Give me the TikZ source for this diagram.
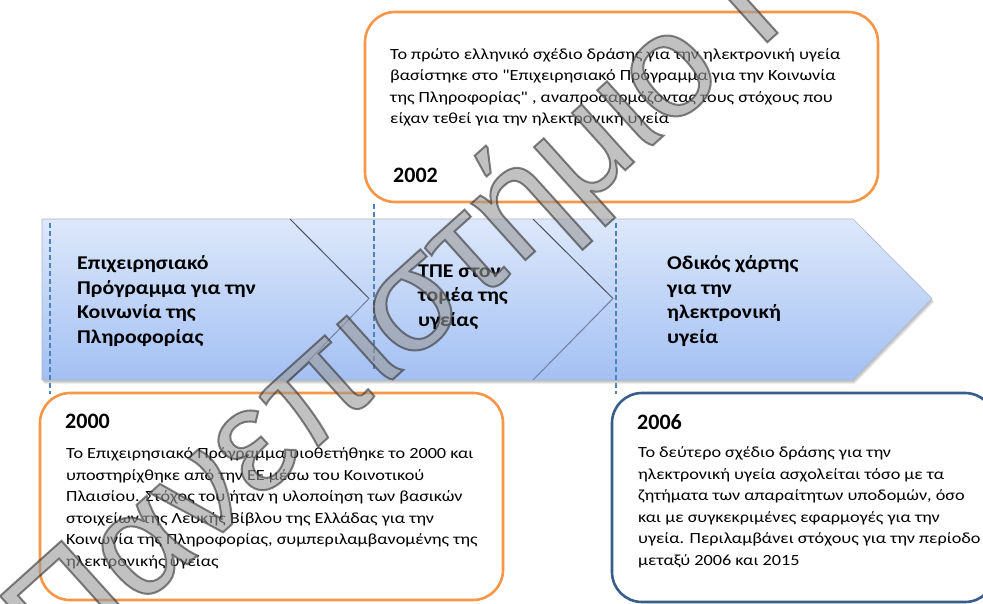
\documentclass[tikz,border=0pt]{standalone}
\usepackage{fontspec}
\setmainfont{Carlito}
\newfontfamily\bodyfont[FakeStretch=1.175]{Carlito}
\newfontfamily\labelfont[FakeStretch=1.12]{Carlito}
\newfontfamily\wmfont{Liberation Sans}

% outlined text: fill and stroke the glyphs, then back to plain fill
\newcommand\outlineon{\special{pdf:literal direct 2 Tr 2 w 0.2 0.2 0.2 RG}}
\newcommand\outlineoff{\special{pdf:literal direct 0 Tr}}

\definecolor{bandtop}{HTML}{DDE8FB}
\definecolor{bandbot}{HTML}{A3C0F3}
\definecolor{bandedge}{HTML}{A9B6CC}
\definecolor{boxorange}{HTML}{F79646}
\definecolor{boxnavy}{HTML}{385D8A}
\definecolor{dashblue}{HTML}{4F81BD}
\definecolor{chevdark}{HTML}{4C5160}
\definecolor{chevlight}{HTML}{6F80A3}

\tikzset{
  body/.style={inner sep=0pt, align=left, anchor=west,
    font=\bodyfont\fontsize{15.5}{21.5}\selectfont},
  bandlabel/.style={inner sep=0pt, align=left, anchor=west,
    font=\labelfont\bfseries\fontsize{19.5}{24.5}\selectfont},
  yearlabel/.style={inner sep=0pt, anchor=west,
    font=\bfseries\fontsize{22}{26}\selectfont},
  eventbox/.style={draw, line width=2.6pt, rounded corners=30pt,
    fill=white, inner sep=0pt},
  guide/.style={draw=dashblue, line width=1.8pt, dash pattern=on 5pt off 3pt},
  chevline/.style={line width=1pt},
  wmark/.style={inner sep=0pt, text=black!40, opacity=0.6,
    font=\wmfont\fontsize{148}{150}\selectfont},
}

\begin{document}
\begin{tikzpicture}[x=1pt, y=-1pt]
\useasboundingbox (0,0) rectangle (983,603);
\fill[white] (0,0) rectangle (983,603);

% soft shadow under the process band
\foreach \d/\o in {4/0.06, 3/0.08, 2/0.10}
  \fill[black, opacity=\o] (42+\d*0.5,219+\d) -- (853+\d*0.5,219+\d)
    -- (932+\d*0.5,298.5+\d) -- (853+\d*0.5,380+\d) -- (42+\d*0.5,380+\d) -- cycle;

% process band (arrow)
\shade[top color=bandtop, bottom color=bandbot, draw=bandedge, line width=0.6pt]
  (42,219) -- (853,219) -- (932,298.5) -- (853,380) -- (42,380) -- cycle;

% chevron separators
\draw[chevline, chevdark] (290,219) -- (369,298.5);
\draw[chevline, chevlight] (369,298.5) -- (290,380);
\draw[chevline, chevdark] (533,219) -- (613,298.5);
\draw[chevline, chevlight] (613,298.5) -- (533,380);

% event boxes
\node[eventbox, draw=boxorange, minimum width=513pt, minimum height=190pt]
  (box2002) at (621.5,107) {};
\node[eventbox, draw=boxorange, minimum width=463pt, minimum height=207pt]
  (box2000) at (271.5,496.5) {};
\node[eventbox, draw=boxnavy, minimum width=383pt, minimum height=209pt]
  (box2006) at (803.5,497.5) {};

% guides from the band to the boxes
\coordinate (g1top) at (50,223);
\coordinate (g2bot) at (374,370);
\coordinate (g3top) at (616,223);
\draw[guide] (g1top) -- (50,393.5);
\draw[guide] (374,203.5) -- (g2bot);
\draw[guide] (g3top) -- (616,393.5);

% band labels
\node[bandlabel] (stage1) at (77,301)
  {Επιχειρησιακό\\Πρόγραμμα για την\\Κοινωνία της\\Πληροφορίας};
\node[bandlabel] (stage2) at (418,297)
  {ΤΠΕ στον\\τομέα της\\υγείας};
\node[bandlabel] (stage3) at (667,301)
  {Οδικός χάρτης\\για την\\ηλεκτρονική\\υγεία};

% 2002
\node[body] (text2002) at (390,87.5)
  {Το πρώτο ελληνικό σχέδιο δράσης για την ηλεκτρονική υγεία\\
   βασίστηκε στο "Επιχειρησιακό Πρόγραμμα για την Κοινωνία\\
   της Πληροφορίας" , αναπροσαρμόζοντας τους στόχους που\\
   είχαν τεθεί για την ηλεκτρονική υγεία};
\node[yearlabel] (year2002) at (393,175) {2002};

% 2000
\node[yearlabel] (year2000) at (65,421) {2000};
\node[body] (text2000) at (66,508.5)
  {Το Επιχειρησιακό Πρόγραμμα υιοθετήθηκε το 2000 και\\
   υποστηρίχθηκε από την ΕΕ μέσω του Κοινοτικού\\
   Πλαισίου. Στόχος του ήταν η υλοποίηση των βασικών\\
   στοιχείων της Λευκής Βίβλου της Ελλάδας για την\\
   Κοινωνία της Πληροφορίας, συμπεριλαμβανομένης της\\
   ηλεκτρονικής υγείας};

% 2006
\node[yearlabel] (year2006) at (637,422) {2006};
\node[body] (text2006) at (638,507.5)
  {Το δεύτερο σχέδιο δράσης για την\\
   ηλεκτρονική υγεία ασχολείται τόσο με τα\\
   ζητήματα των απαραίτητων υποδομών, όσο\\
   και με συγκεκριμένες εφαρμογές για την\\
   υγεία. Περιλαμβάνει στόχους για την περίοδο\\
   μεταξύ 2006 και 2015};

% watermark
\node[wmark, rotate=42, anchor=base west] (wm) at (59,680)
  {\outlineon Πανεπιστήμιο Π\outlineoff};
\end{tikzpicture}
\end{document}
